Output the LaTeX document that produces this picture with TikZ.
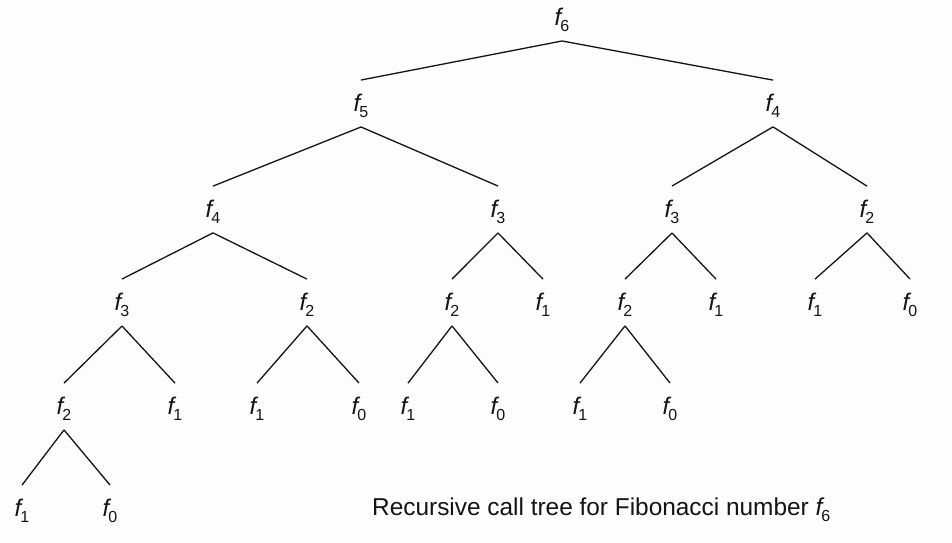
\documentclass[tikz,border=0pt]{standalone}
\usepackage{fontspec}
\setmainfont{Liberation Sans}
\usepackage{xcolor}
\definecolor{ink}  {HTML}{141414}
\definecolor{paper}{HTML}{FDFDFD}
\newcommand{\fibf}[1]{{\itshape f}\kern-1pt\raisebox{-6pt}{\fontsize{16}{16}\selectfont #1}}
\tikzset{
  term/.style = {inner sep=0pt, text=ink, font=\fontsize{24}{28}\selectfont},
  link/.style = {draw=ink, line width=1.3pt},
}

\begin{document}
\begin{tikzpicture}[x=1pt, y=-1pt]
  \fill[paper] (0,0) rectangle (952,542);
  \useasboundingbox (0,0) rectangle (952,542);

  % root and its two subtrees
  \node[term] (t)      at (562,20)  {\fibf{6}};
  \node[term] (tl)     at (361,106) {\fibf{5}};
  \node[term] (tr)     at (773,106) {\fibf{4}};

  \node[term] (tll)    at (213,212) {\fibf{4}};
  \node[term] (tlr)    at (498,212) {\fibf{3}};
  \node[term] (trl)    at (672,212) {\fibf{3}};
  \node[term] (trr)    at (867,212) {\fibf{2}};

  \node[term] (tlll)   at (122,305) {\fibf{3}};
  \node[term] (tllr)   at (307,305) {\fibf{2}};
  \node[term] (tlrl)   at (452,305) {\fibf{2}};
  \node[term] (tlrr)   at (543,305) {\fibf{1}};
  \node[term] (trll)   at (625,305) {\fibf{2}};
  \node[term] (trlr)   at (716,305) {\fibf{1}};
  \node[term] (trrl)   at (815,305) {\fibf{1}};
  \node[term] (trrr)   at (910,305) {\fibf{0}};

  \node[term] (tllll)  at (64,409)  {\fibf{2}};
  \node[term] (tlllr)  at (175,409) {\fibf{1}};
  \node[term] (tllrl)  at (257,409) {\fibf{1}};
  \node[term] (tllrr)  at (359,409) {\fibf{0}};
  \node[term] (tlrll)  at (408,409) {\fibf{1}};
  \node[term] (tlrlr)  at (498,409) {\fibf{0}};
  \node[term] (trlll)  at (580,409) {\fibf{1}};
  \node[term] (trllr)  at (670,409) {\fibf{0}};

  \node[term] (tlllll) at (22,511)  {\fibf{1}};
  \node[term] (tllllr) at (110,511) {\fibf{0}};

  % parent -> child calls
  \foreach \p/\c in {t/tl, t/tr,
                     tl/tll, tl/tlr, tr/trl, tr/trr,
                     tll/tlll, tll/tllr, tlr/tlrl, tlr/tlrr,
                     trl/trll, trl/trlr, trr/trrl, trr/trrr,
                     tlll/tllll, tlll/tlllr, tllr/tllrl, tllr/tllrr,
                     tlrl/tlrll, tlrl/tlrlr, trll/trlll, trll/trllr,
                     tllll/tlllll, tllll/tllllr}
    \draw[link] ([yshift=-9pt]\p.south) -- ([yshift=14pt]\c.north);

  \node[term, anchor=base west, font=\fontsize{24.4}{28}\selectfont] (cap) at (372,515)
    {Recursive call tree for Fibonacci number \fibf{6}};
\end{tikzpicture}
\end{document}
